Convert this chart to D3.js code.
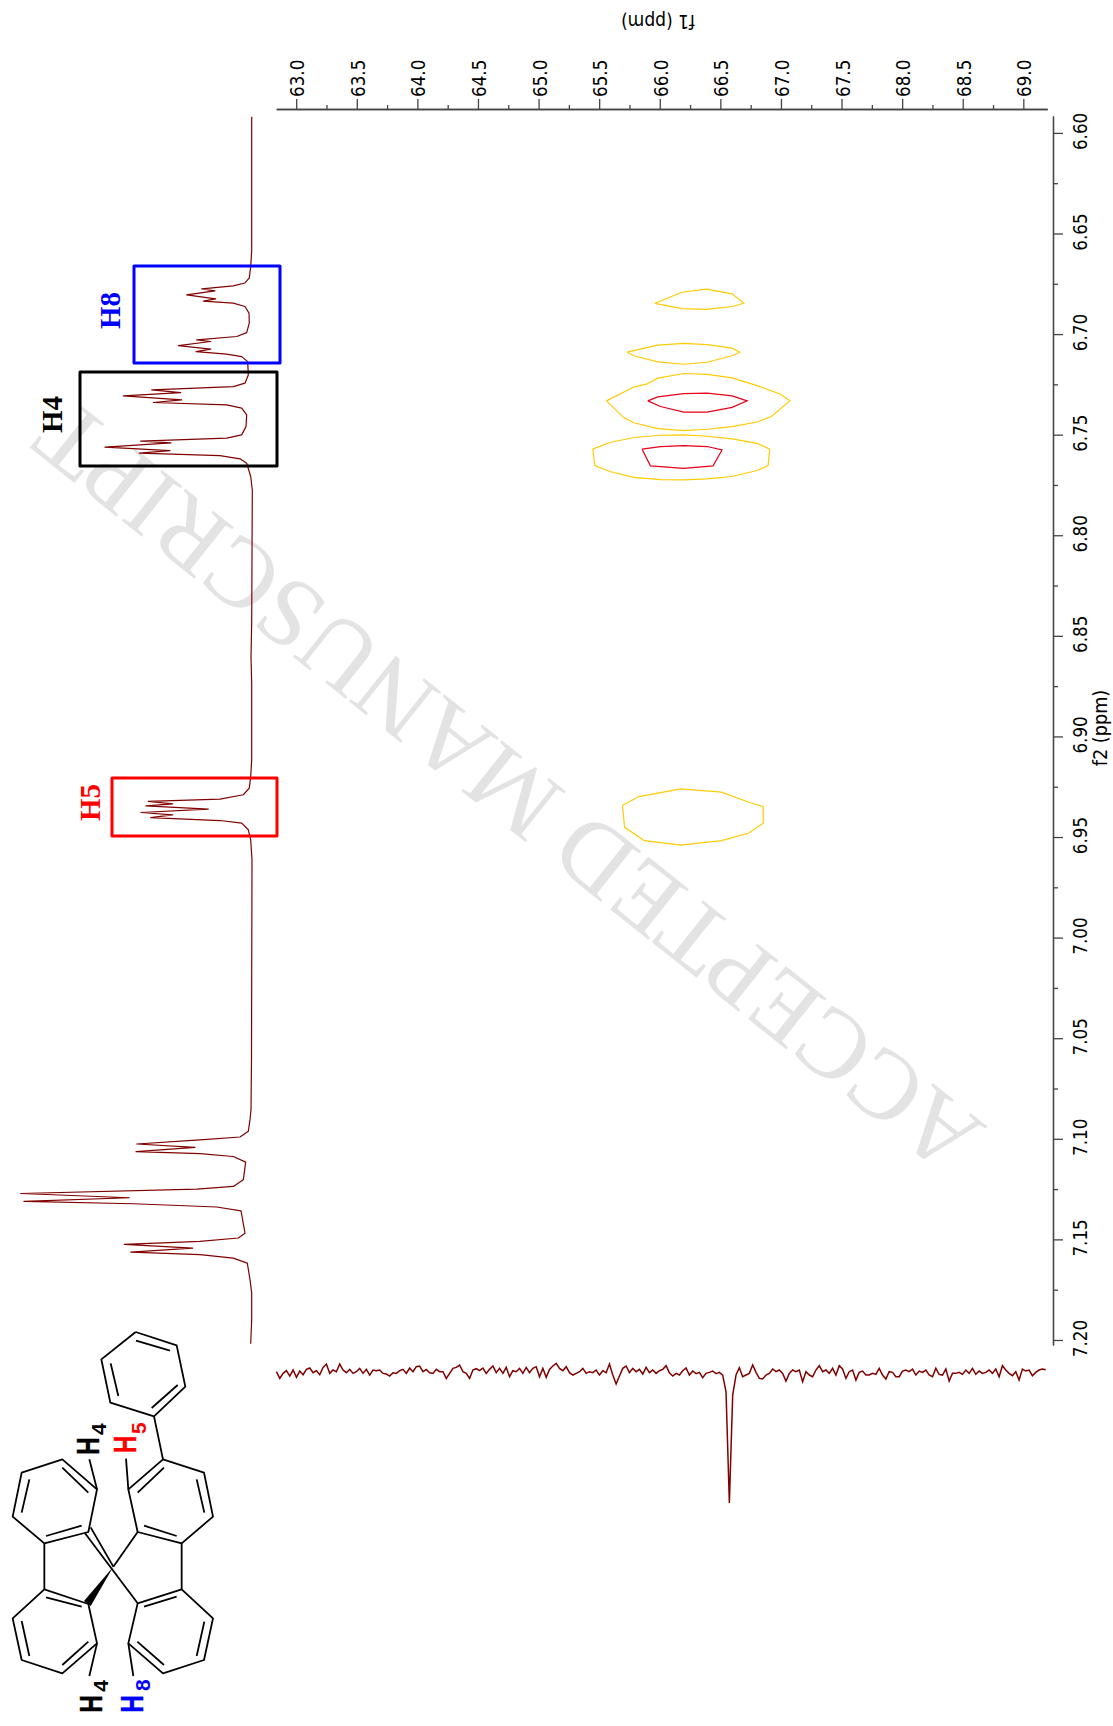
<!DOCTYPE html>
<html><head><meta charset="utf-8">
<style>html,body{margin:0;padding:0;background:#fff}svg{display:block}</style>
<script src="https://cdn.jsdelivr.net/npm/d3@7"></script></head><body>
<script>
// --- data ---
const f1Ticks = [63,63.5,64,64.5,65,65.5,66,66.5,67,67.5,68,68.5,69];
const f1Minor = [63.25,63.75,64.25,64.75,65.25,65.75,66.25,66.75,67.25,67.75,68.25,68.75];
const f2Ticks = [6.60,6.65,6.70,6.75,6.80,6.85,6.90,6.95,7.00,7.05,7.10,7.15,7.20];
const f2Minor = [6.625,6.675,6.725,6.775,6.825,6.875,6.925,6.975,7.025,7.075,7.125,7.175];

const protonPpm = [6.5920,6.6582,6.6666,6.6721,6.6746,6.6760,6.6775,6.6785,6.6805,6.6825,6.6836,6.6846,6.6863,6.6896,6.6944,6.6993,6.7012,6.7029,6.7037,6.7057,6.7075,6.7087,6.7100,6.7112,6.7137,6.7203,6.7244,6.7261,6.7277,6.7291,6.7307,6.7327,6.7340,6.7352,6.7368,6.7402,6.7460,6.7501,6.7517,6.7532,6.7541,6.7562,6.7579,6.7592,6.7604,6.7620,6.7642,6.7708,6.7774,
 6.8435,6.8604,6.8734,6.9116,6.9199,6.9257,6.9290,6.9312,6.9323,6.9335,6.9345,6.9361,6.9378,6.9390,6.9404,6.9418,6.9431,6.9464,6.9514,6.9613,
 7.0607,7.0856,7.0905,7.0963,7.0991,7.1005,7.1026,7.1043,7.1064,7.1074,7.1088,7.1116,7.1204,7.1237,7.1250,7.1272,7.1293,7.1311,7.1323,7.1339,7.1358,7.1469,7.1493,7.1510,7.1525,7.1543,7.1563,7.1576,7.1593,7.1618,7.1700,7.1767,7.1899,7.2019];
const protonInt = [0.3,0.3,1.3,2.7,7,18.7,50.3,37,65.3,36.3,48.7,18.7,7,3,2.7,5.3,15.3,55.3,41.3,73.7,41.3,56,25.3,10.3,4.3,3.7,7,18.7,100.3,71.3,128.7,70.3,98.7,25.3,10.3,5.3,6,10.3,25.3,111.3,81,147,82,112.7,32,12,5.3,1.3,-0.3,
 0.3,1,0.3,0.3,1.3,2.7,8.7,32,103.7,79.3,106,43.7,111,79.3,101.3,32,10.3,3.7,1.3,0,
 0.5,1,2,3.7,12,52,115.3,57,116,52,18.7,6.3,8.7,18.7,55.3,231.3,122.7,228,118.7,35.3,11,7,13.7,52,127.7,59.3,121.3,52,18.7,4.7,2,0.3,0.3,1.3];

const carbonStart = 62.837, carbonStep = 0.02748;
const carbonInt = [0,-20,-5,3,-13,5,-17,2,-9,7,11,-3,3,-9,13,23,-5,5,0,23,5,-3,7,-5,0,10,-5,7,-10,5,3,5,-5,-7,-13,-3,-5,3,7,-5,11,0,15,17,0,7,-3,-5,7,0,0,-20,-5,10,13,20,0,-5,-20,5,9,3,11,-5,7,17,-3,10,-5,13,-15,3,0,10,-5,13,-3,10,15,-15,10,-17,7,17,25,10,3,15,-3,-10,-5,0,10,-5,0,-3,5,-10,3,-3,23,-10,-37,-13,10,17,-3,10,0,7,-7,13,-3,5,-5,3,7,18,-3,-13,-5,-10,3,11,
 -10,2,-6,-2,-18,-5,-2,2,-6,-2,-10,-60,-393,-70,-10,12,-15,-10,-5,20,-2,-20,-22,-10,-5,8,0,5,-5,-28,-5,5,0,5,-30,0,-10,-15,5,18,0,5,-5,10,-10,18,8,-20,0,5,-25,-2,2,-10,-10,-5,-8,10,-10,-22,0,-2,-15,-15,2,5,0,8,-10,2,-2,5,-10,-15,10,-8,-10,8,-28,-5,-5,-2,-8,5,-5,10,-8,2,-5,-2,5,-5,8,-15,18,5,-5,-12,0,-25,8,2,5,-12,-2,5,8,6];

const contourF1 = [
 [65.959,66.184,66.385,66.597,66.693,66.597,66.385,66.184,65.959],
 [65.731,65.984,66.198,66.391,66.597,66.660,66.597,66.391,66.198,65.984,65.786,65.731],
 [65.560,65.786,65.890,65.984,66.198,66.391,66.597,66.803,66.996,67.073,66.921,66.803,66.597,66.391,66.198,65.984,65.786,65.703,65.560],
 [65.901,65.984,66.198,66.391,66.597,66.721,66.597,66.391,66.198,66.006,65.901],
 [65.447,65.588,65.786,66.006,66.198,66.391,66.597,66.803,66.908,66.894,66.803,66.597,66.391,66.198,66.006,65.786,65.588,65.464,65.447],
 [65.854,66.006,66.198,66.391,66.514,66.440,66.198,65.923,65.854],
 [65.692,65.828,66.173,66.509,66.736,66.854,66.854,66.736,66.509,66.173,65.874,65.710,65.692]];
const contourF2 = [
 [6.6847,6.6792,6.6777,6.6800,6.6847,6.6863,6.6877,6.6873,6.6847],
 [6.7090,6.7055,6.7046,6.7052,6.7070,6.7090,6.7108,6.7140,6.7150,6.7138,6.7108,6.7090],
 [6.7332,6.7263,6.7249,6.7219,6.7196,6.7200,6.7218,6.7256,6.7299,6.7332,6.7410,6.7437,6.7460,6.7473,6.7480,6.7470,6.7441,6.7415,6.7332],
 [6.7332,6.7312,6.7296,6.7294,6.7307,6.7332,6.7364,6.7388,6.7388,6.7360,6.7332],
 [6.7572,6.7539,6.7514,6.7503,6.7501,6.7508,6.7521,6.7543,6.7572,6.7654,6.7678,6.7708,6.7720,6.7725,6.7723,6.7712,6.7683,6.7654,6.7572],
 [6.7572,6.7559,6.7554,6.7559,6.7576,6.7655,6.7668,6.7655,6.7572],
 [6.9343,6.9299,6.9261,6.9277,6.9327,6.9349,6.9431,6.9480,6.9518,6.9540,6.9518,6.9452,6.9343]];
const contourColor = ["#ffcb05","#ffcb05","#ffcb05","#e6001a","#ffcb05","#e6001a","#ffcb05"];

const boxF1 = [[134,280],[80,277],[112,277]];
const boxF2 = [[266,363],[372,466],[778,836]];
const boxColor = ["#0000ff","#000000","#ff0000"];
const boxLabel = ["H8","H4","H5"];
const boxLabelPos = [[120,329],[62,433],[100,821]];

const watermark = "ACCEPTED MANUSCRIPT";

// molecule drawing
const rings = [
 [[407,36],[530,76],[556,200],[462,289],[331,248],[304,118],[407,36]],
 [[489,418],[612,458],[639,590],[545,670],[413,636],[385,508],[489,418]],
 [[545,808],[639,895],[612,1020],[489,1060],[385,970],[413,850],[545,808]],
 [[133,670],[38,590],[65,458],[187,418],[291,508],[265,636],[133,670]],
 [[133,808],[38,895],[65,1020],[187,1060],[291,970],[265,852],[133,808]]];
const bonds = [
 [[408,62],[510,92]],[[455,264],[533,195]],[[355,228],[332,130]],[[462,289],[489,418]],
 [[413,518],[492,443]],[[613,578],[590,478]],[[432,617],[530,648]],[[385,508],[378,416]],
 [[413,636],[340,740]],[[255,640],[413,850]],[[272,622],[340,740]],[[545,670],[545,808]],
 [[432,860],[530,830]],[[590,1008],[613,905]],[[412,965],[492,1035]],[[385,970],[400,1068]],
 [[138,648],[245,617]],[[65,578],[88,478]],[[187,443],[265,518]],[[291,508],[268,418]],
 [[133,670],[133,808]],[[138,832],[245,860]],[[65,903],[88,1008]],[[187,1035],[265,965]],[[291,970],[268,1068]]];
const wedge = [[340,740],[252,843],[272,858]];
const molLabels = [
 {h:"H",n:"4",c:"#000",hx:298,hy:405,nx:318,ny:345},
 {h:"H",n:"5",c:"#f00",hx:407,hy:400,nx:437,ny:342},
 {h:"H",n:"4",c:"#000",hx:305,hy:1178,nx:325,ny:1115},
 {h:"H",n:"8",c:"#00f",hx:428,hy:1178,nx:450,ny:1113}];

// --- chart ---
const W=1113,H=1726;
const svg=d3.select("body").append("svg").attr("width",W).attr("height",H).attr("viewBox",[0,0,W,H]);

const xF1=d3.scaleLinear().domain([62.835,69.197]).range([276.2,1047.2]);
const yF2=d3.scaleLinear().domain([6.5916,7.2025]).range([116,1345]);
const xProton=d3.scaleLinear().domain([0,232]).range([252,20]);
const yCarbon=d3.scaleLinear().domain([0,-393]).range([1371.7,1503]);

// watermark
svg.append("text").text(watermark)
 .attr("transform","translate(988,1127) rotate(218.5)")
 .attr("font-family","'Liberation Serif',serif").attr("font-size",99).attr("fill","#e3e3e3")
 .style("font-kerning","none");

// top axis
const DV="'DejaVu Sans',Verdana,sans-serif";
function styleAxis(g){g.selectAll("path.domain,line").attr("stroke","#444").attr("stroke-width",1.3);}
const topMinor=svg.append("g").attr("transform","translate(0,109)")
 .call(d3.axisTop(xF1).tickValues(f1Minor).tickSize(4).tickSizeOuter(0).tickFormat(""));
const topMajor=svg.append("g").attr("transform","translate(0,109)")
 .call(d3.axisTop(xF1).tickValues(f1Ticks).tickSize(10).tickSizeOuter(0).tickFormat(d3.format(".1f")));
topMinor.call(styleAxis);topMajor.call(styleAxis);
topMajor.selectAll("text").attr("font-family",DV).attr("font-size",20).attr("fill","#000")
 .attr("text-anchor","start").attr("x",null).attr("y",null).attr("dy",null)
 .attr("transform","translate(7.6,-12) rotate(-90) scale(.84,1)");

// right axis
const rightMinor=svg.append("g").attr("transform","translate(1053,0)")
 .call(d3.axisRight(yF2).tickValues(f2Minor).tickSize(5).tickSizeOuter(0).tickFormat(""));
const rightMajor=svg.append("g").attr("transform","translate(1053,0)")
 .call(d3.axisRight(yF2).tickValues(f2Ticks).tickSize(10).tickSizeOuter(0).tickFormat(d3.format(".2f")));
rightMinor.call(styleAxis);rightMajor.call(styleAxis);
rightMajor.selectAll("text").attr("font-family",DV).attr("font-size",20).attr("fill","#000")
 .attr("text-anchor","middle").attr("x",null).attr("y",null).attr("dy",null)
 .attr("transform","translate(34,-2) rotate(-90) scale(.84,1)");

// axis titles
svg.append("text").text("f1 (ppm)").attr("transform","translate(658,15) rotate(180) scale(.9,1)")
 .attr("text-anchor","middle").attr("font-family",DV).attr("font-size",19);
svg.append("text").text("f2 (ppm)").attr("transform","translate(1107,728) rotate(-90) scale(.93,1)")
 .attr("text-anchor","middle").attr("font-family",DV).attr("font-size",19);

// contours
const contourLine=d3.line().x(d=>xF1(d[0])).y(d=>yF2(d[1]));
contourF1.forEach((xs,i)=>{
 svg.append("path").attr("d",contourLine(xs.map((x,j)=>[x,contourF2[i][j]])))
  .attr("fill","none").attr("stroke",contourColor[i]).attr("stroke-width",1.2);
});

// 1H projection
const protonLine=d3.line().x(d=>xProton(d[1])).y(d=>yF2(d[0]));
svg.append("path").attr("d",protonLine(protonPpm.map((p,i)=>[p,protonInt[i]])))
 .attr("fill","none").attr("stroke","#800000").attr("stroke-width",1.2).attr("stroke-linejoin","round");

// 13C projection
const carbonLine=d3.line().x((d,i)=>xF1(carbonStart+i*carbonStep)).y(d=>yCarbon(d));
svg.append("path").attr("d",carbonLine(carbonInt))
 .attr("fill","none").attr("stroke","#800000").attr("stroke-width",1.5);

// boxes and labels
boxF1.forEach((b,i)=>{
 svg.append("rect").attr("x",b[0]).attr("width",b[1]-b[0]).attr("y",boxF2[i][0]).attr("height",boxF2[i][1]-boxF2[i][0])
  .attr("fill","none").attr("stroke",boxColor[i]).attr("stroke-width",3).attr("stroke-linejoin","round");
 svg.append("text").text(boxLabel[i]).attr("transform",`translate(${boxLabelPos[i][0]},${boxLabelPos[i][1]}) rotate(-90)`)
  .attr("font-family","'Liberation Serif',serif").attr("font-weight","bold").attr("font-size",29).attr("fill",boxColor[i]);
});

// molecule
const mx=d3.scaleLinear().domain([0,840]).range([0,280]);
const my=d3.scaleLinear().domain([0,1218]).range([1320,1726]);
const molLine=d3.line().x(d=>mx(d[0])).y(d=>my(d[1]));
const mol=svg.append("g");
rings.concat(bonds).forEach(p=>mol.append("path").attr("d",molLine(p))
 .attr("fill","none").attr("stroke","#000").attr("stroke-width",1.8).attr("stroke-linejoin","round"));
mol.append("path").attr("d",molLine(wedge)+"Z").attr("fill","#000");
molLabels.forEach(l=>{
 mol.append("text").text(l.h).attr("transform",`translate(${mx(l.hx)},${my(l.hy)}) rotate(-90) scale(.82,1.02)`)
  .attr("font-family","'Liberation Sans',sans-serif").attr("font-weight","bold").attr("font-size",30).attr("fill",l.c)
  .attr("stroke",l.c).attr("stroke-width",.4);
 mol.append("text").text(l.n).attr("transform",`translate(${mx(l.nx)},${my(l.ny)}) rotate(-90)`)
  .attr("font-family","'Liberation Sans',sans-serif").attr("font-weight","bold").attr("font-size",21).attr("fill",l.c);
});
</script></body></html>
